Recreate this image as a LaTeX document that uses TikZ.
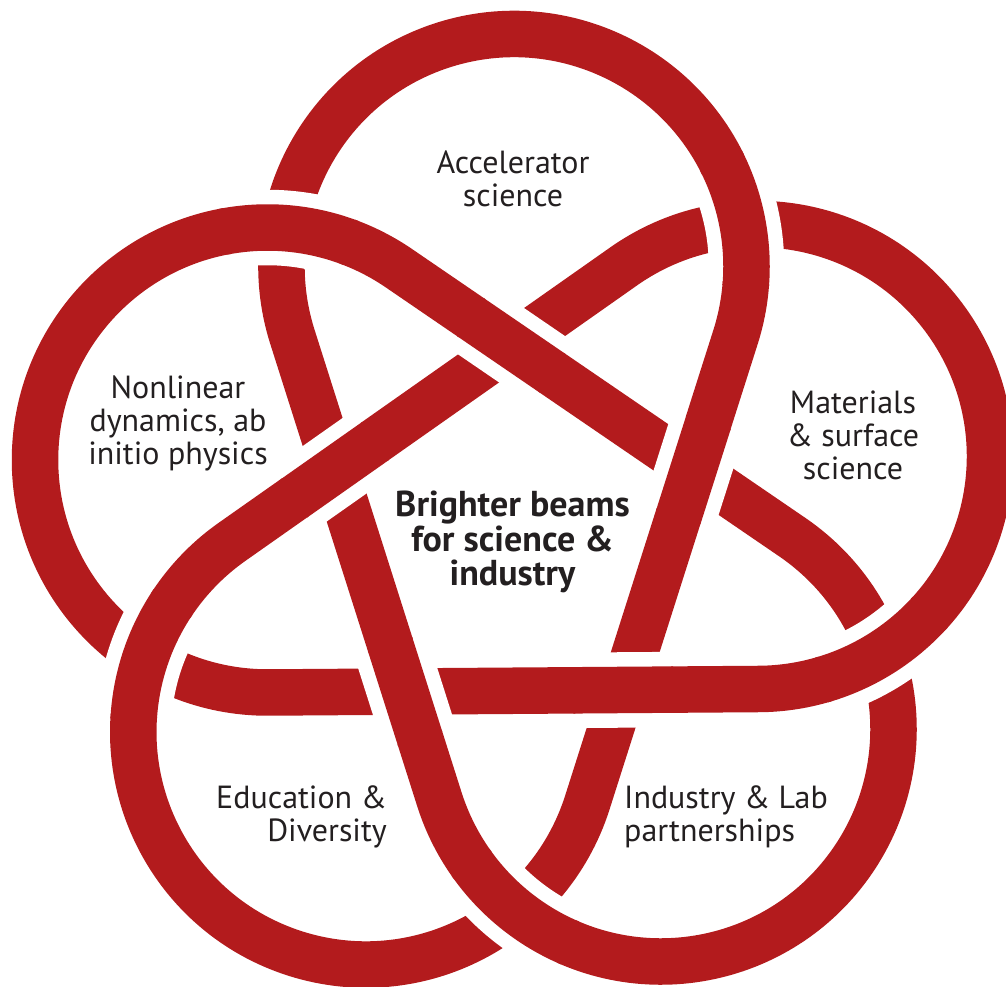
\documentclass[tikz,border=0pt]{standalone}
\usepackage{fontspec}
\setmainfont{PT Sans}
\usetikzlibrary{calc}
\definecolor{cbbred}{RGB}{179,27,29}
\definecolor{labelgray}{RGB}{35,31,32}
\begin{document}
\begin{tikzpicture}[x=1pt,y=-1pt,
  band/.style={draw=cbbred, line width=46.5pt, line cap=butt, line join=round},
  gapband/.style={draw=white, line width=75.5pt, line cap=butt},
  lbl/.style={text=labelgray, inner sep=0pt, font=\fontsize{32}{33}\selectfont}]
\useasboundingbox (0,0) rectangle (1006,987);
\def\R{232.5pt}
% lobe centres
\coordinate (T) at (514,266.5);
\coordinate (N) at (267.5,460);
\coordinate (E) at (365.8,732);
\coordinate (I) at (661,729);
\coordinate (M) at (757.5,456.5);
% tangent points
\coordinate (Tin)  at ($(T)+(197.632:\R)$);
\coordinate (Tout) at ($(T)+(-17.659:\R)$);
\coordinate (Ein)  at ($(E)+(-17.659:\R)$);
\coordinate (Eout) at ($(E)+(125.121:\R)$);
\coordinate (Min)  at ($(M)+(125.121:\R)$);
\coordinate (Mout) at ($(M)+(-89.591:\R)$);
\coordinate (Nin)  at ($(N)+(-89.591:\R)$);
\coordinate (Nout) at ($(N)+(55.638:\R)$);
\coordinate (Iin)  at ($(I)+(55.638:\R)$);
\coordinate (Iout) at ($(I)+(197.632:\R)$);
% the knot
\draw[band] (Tin) arc[start angle=197.632, end angle=-17.659, radius=\R]
  -- (Ein) arc[start angle=-17.659, end angle=-234.879, radius=\R]
  -- (Min) arc[start angle=125.121, end angle=-89.591, radius=\R]
  -- (Nin) arc[start angle=270.409, end angle=55.638, radius=\R]
  -- (Iin) arc[start angle=55.638, end angle=-162.368, radius=\R]
  -- cycle;
% inner crossings
\coordinate (X5) at (intersection of Tout--Ein and Nout--Iin);
\coordinate (X3) at (intersection of Nout--Iin and Eout--Min);
\coordinate (X2) at (intersection of Eout--Min and Iout--Tin);
\coordinate (X9) at (intersection of Iout--Tin and Mout--Nin);
\coordinate (X7) at (intersection of Mout--Nin and Tout--Ein);
\foreach \X/\B in {X5/Ein, X3/Iin, X2/Min, X9/Tin, X7/Nin} {
  \draw[gapband] ($(\X)!-48pt!(\B)$) -- ($(\X)!48pt!(\B)$);
  \draw[band] ($(\X)!-50pt!(\B)$) -- ($(\X)!50pt!(\B)$);
}
% outer crossings
\foreach \C/\a/\b in {N/100/70, T/26/-4, M/-43/-73, I/-114/-144, E/176/147} {
  \draw[gapband] ($(\C)+(\a:\R)$) arc[start angle=\a, end angle=\b, radius=\R];
  \draw[band] ($(\C)+(\a+1:\R)$) arc[start angle=\a+1, end angle=\b-1, radius=\R];
}
% labels
\node[lbl, align=center, anchor=north] (acc) at (513,151) {Accelerator\\science};
\node[lbl, align=center, anchor=north] (nonlin) at (178,376) {Nonlinear\\dynamics, ab\\initio physics};
\node[lbl, align=center, anchor=north] (mat) at (853,391) {Materials\\\& surface\\science};
\node[lbl, align=right, anchor=north east] (edu) at (387,786) {Education \&\\Diversity};
\node[lbl, align=left, anchor=north west] (ind) at (624,786) {Industry \& Lab\\partnerships};
\node[lbl, align=center, anchor=north, font=\bfseries\fontsize{36}{34.5}\selectfont] (core) at (512.5,491) {Brighter beams\\for science \&\\industry};
\end{tikzpicture}
\end{document}
